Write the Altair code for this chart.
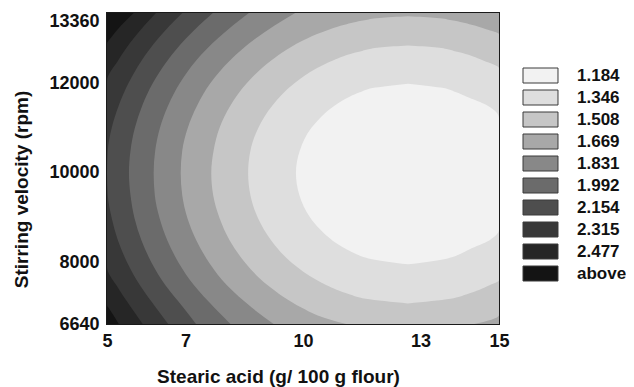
import altair as alt
import pandas as pd

# ---- legend levels and gray shades (lightest -> darkest) ----
LEVELS = ["1.184", "1.346", "1.508", "1.669", "1.831", "1.992", "2.154", "2.315", "2.477", "above"]
GRAYS = ["#f2f2f2", "#dedede", "#c6c6c6", "#a8a8a8", "#888888", "#6b6b6b", "#4e4e4e", "#383838", "#262626", "#141414"]

# ---- axes ----
X_TICKS = [5, 7, 10, 13, 15]
Y_TICKS = [6640, 8000, 10000, 12000, 13360]
X_MIN, X_MAX = 5, 15
Y_MIN, Y_MAX = 6640, 13560

# ---- contour boundaries ----
# boundary k separates band LEVELS[k] (inside) from LEVELS[k+1] (outside)
B0_Y = [11986, 11900, 11800, 11700, 11500, 11220, 11000, 10500, 10000, 9500, 9000, 8740, 8500, 8300, 8200, 8100, 7968]
B0_XL = [12.68, 11.85, 11.47, 11.20, 10.81, 10.43, 10.21, 9.92, 9.82, 9.91, 10.19, 10.44, 10.75, 11.12, 11.35, 11.67, 12.68]
B0_XR = [12.68, 13.51, 13.89, 14.16, 14.70, 15.0, 15.0, 15.0, 15.0, 15.0, 15.0, 15.0, 14.75, 14.24, 14.01, 13.69, 12.68]

B1_Y = [12838, 12800, 12700, 12500, 12335, 12000, 11500, 11000, 10500, 10000, 9500, 9000, 8500, 8000, 7611, 7500, 7300, 7200, 7097]
B1_XL = [12.68, 12.02, 11.43, 10.75, 10.36, 9.79, 9.22, 8.86, 8.66, 8.60, 8.66, 8.85, 9.19, 9.72, 10.36, 10.60, 11.18, 11.60, 12.68]
B1_XR = [12.68, 13.35, 13.93, 14.61, 15.0, 15.0, 15.0, 15.0, 15.0, 15.0, 15.0, 15.0, 15.0, 15.0, 15.0, 14.76, 14.18, 13.76, 12.68]

B2_Y = [13487, 13450, 13400, 13300, 13200, 13092, 13000, 12500, 12000, 11500, 11000, 10500, 10000, 9500, 9000, 8500, 8000, 7500, 7000, 6837, 6640]
B2_XL = [12.68, 11.95, 11.57, 11.06, 10.69, 10.36, 10.12, 9.18, 8.57, 8.15, 7.87, 7.72, 7.66, 7.71, 7.87, 8.13, 8.53, 9.10, 9.97, 10.36, 11.10]
B2_XR = [12.68, 13.41, 13.79, 14.30, 14.67, 15.0, 15.0, 15.0, 15.0, 15.0, 15.0, 15.0, 15.0, 15.0, 15.0, 15.0, 15.0, 15.0, 15.0, 15.0, 14.37]

ROWS = [13560, 13000, 12500, 12000, 11500, 11000, 10500, 10000, 9500, 9000, 8500, 8000, 7500, 7000, 6640]
B3_XL = [9.80, 8.80, 8.13, 7.64, 7.30, 7.06, 6.92, 6.88, 6.92, 7.05, 7.28, 7.61, 8.06, 8.70, 9.25]
B4_XL = [8.62, 7.83, 7.27, 6.86, 6.56, 6.35, 6.23, 6.19, 6.22, 6.34, 6.54, 6.83, 7.22, 7.74, 8.15]
B5_XL = [7.70, 7.02, 6.54, 6.17, 5.90, 5.71, 5.60, 5.56, 5.60, 5.70, 5.88, 6.14, 6.49, 6.95, 7.27]
B6_XL = [6.92, 6.31, 5.88, 5.55, 5.30, 5.12, 5.02, 5.00, 5.02, 5.12, 5.28, 5.52, 5.84, 6.25, 6.56]

B7_Y = [13560, 13000, 12500, 12048, 7905, 7500, 7000, 6640]
B7_XL = [6.25, 5.68, 5.28, 5.00, 5.00, 5.24, 5.62, 5.91]

B8_Y = [13560, 13000, 12881, 7052, 7000, 6640]
B8_XL = [5.68, 5.09, 5.00, 5.00, 5.04, 5.30]

BOUNDARIES = [
    (B0_Y, B0_XL, B0_XR),
    (B1_Y, B1_XL, B1_XR),
    (B2_Y, B2_XL, B2_XR),
    (ROWS, B3_XL, [X_MAX] * len(ROWS)),
    (ROWS, B4_XL, [X_MAX] * len(ROWS)),
    (ROWS, B5_XL, [X_MAX] * len(ROWS)),
    (ROWS, B6_XL, [X_MAX] * len(ROWS)),
    (B7_Y, B7_XL, [X_MAX] * len(B7_Y)),
    (B8_Y, B8_XL, [X_MAX] * len(B8_Y)),
]

FONT = "Liberation Sans"

x_scale = alt.Scale(domain=[X_MIN, X_MAX], nice=False, zero=False)
y_scale = alt.Scale(domain=[Y_MIN, Y_MAX], nice=False, zero=False)

x_axis = alt.Axis(
    values=X_TICKS, title="Stearic acid (g/ 100 g flour)", grid=False, ticks=False, domain=False,
    labelFont=FONT, labelFontSize=18, labelFontWeight="bold", labelColor="#111111",
    labelPadding=8, labelFlush=False, labelOverlap=False,
    titleFont=FONT, titleFontSize=19, titleFontWeight="bold", titleColor="#111111",
    titleX=171, titleY=58, titleBaseline="alphabetic", titleAlign="center",
)
y_axis = alt.Axis(
    values=Y_TICKS, title="Stirring velocity (rpm)", grid=False, ticks=False, domain=False,
    labelFont=FONT, labelFontSize=18, labelFontWeight="bold", labelColor="#111111",
    labelPadding=8, labelFlush=False, labelOverlap=False, format="d",
    titleFont=FONT, titleFontSize=19, titleFontWeight="bold", titleColor="#111111",
    titleAngle=270, titleX=-80, titleY=176, titleBaseline="alphabetic", titleAlign="center",
)

color = alt.Color(
    "band:N",
    scale=alt.Scale(domain=LEVELS, range=GRAYS),
    legend=alt.Legend(
        title=None, orient="none", legendX=425, legendY=54, direction="vertical",
        symbolType="M-2.333,-1H2.333V1H-2.333Z", symbolSize=225,
        symbolStrokeColor="#3a3a3a", symbolStrokeWidth=1, symbolOpacity=1,
        labelFont=FONT, labelFontSize=17, labelFontWeight="bold", labelColor="#111111",
        labelOffset=28, rowPadding=3, padding=0, labelLimit=0,
    ),
)

# background band ("above") covering the whole plot area
bg_df = pd.DataFrame({"x0": [X_MIN], "x1": [X_MAX], "y0": [Y_MIN], "y1": [Y_MAX], "band": [LEVELS[-1]]})
layers = [
    alt.Chart(bg_df).mark_rect().encode(
        x=alt.X("x0:Q", scale=x_scale, axis=x_axis),
        x2="x1:Q",
        y=alt.Y("y0:Q", scale=y_scale, axis=y_axis),
        y2="y1:Q",
        color=color,
    )
]

for k in range(len(BOUNDARIES) - 1, -1, -1):
    ys, xl, xr = BOUNDARIES[k]
    df = pd.DataFrame({"yv": ys, "xl": xl, "xr": xr, "band": LEVELS[k]}).sort_values("yv")
    layers.append(
        alt.Chart(df)
        .mark_area(orient="horizontal", interpolate="monotone", clip=True)
        .encode(
            y=alt.Y("yv:Q", scale=y_scale, axis=y_axis),
            x=alt.X("xl:Q", scale=x_scale, axis=x_axis),
            x2="xr:Q",
            color=color,
        )
    )

chart = (
    alt.layer(*layers)
    .properties(
        width=392, height=311,
        autosize=alt.AutoSizeParams(type="none"),
        padding={"left": 99, "top": 5, "right": 127, "bottom": 63},
        background="white",
    )
    .configure_view(stroke="#1a1a1a", strokeWidth=2)
)

chart.save("out.html", embed_options={"renderer": "svg", "actions": False})
